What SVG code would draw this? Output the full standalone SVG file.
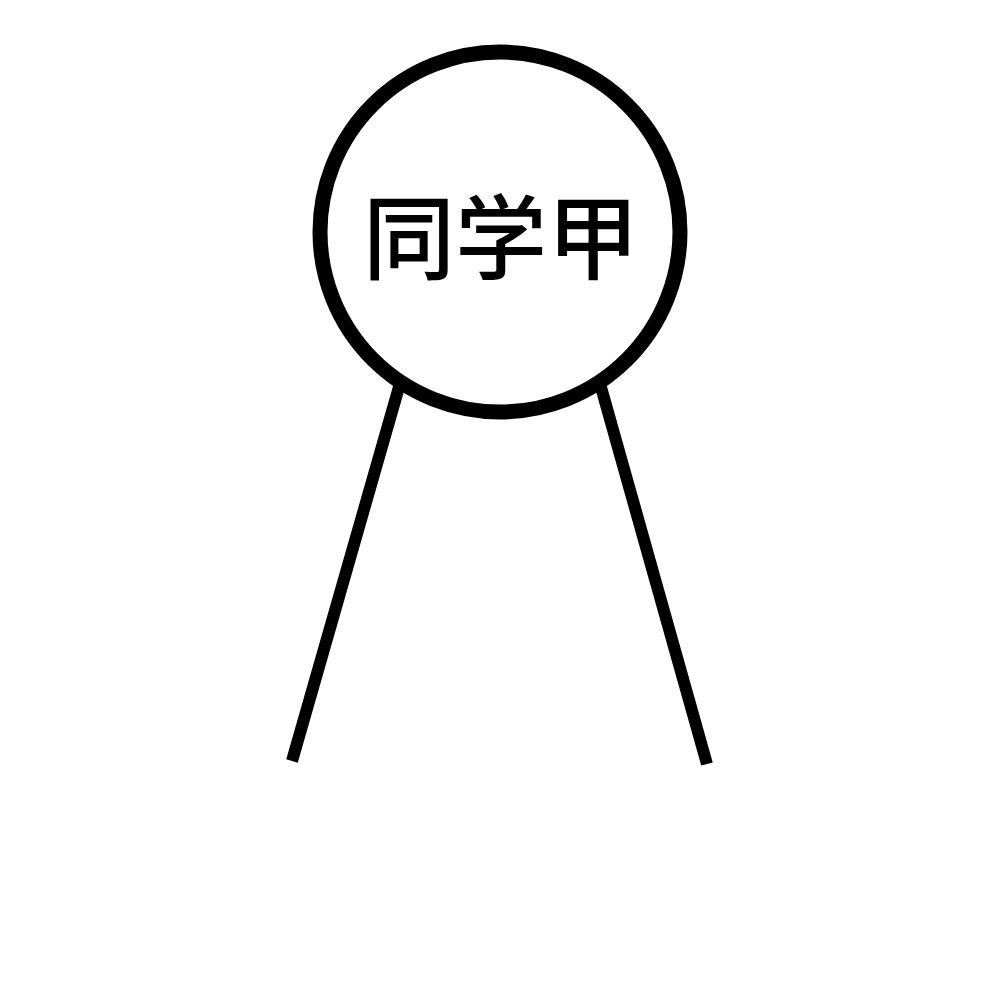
<svg xmlns="http://www.w3.org/2000/svg" width="1000" height="1000" viewBox="0 0 1000 1000">
<style>
.edge{stroke:#000;stroke-width:12;fill:none;stroke-linecap:butt}
.node{fill:#fff;stroke:#000;stroke-width:15}
.label{font-family:"Noto Sans CJK SC","Noto Sans",sans-serif;font-size:92px;font-weight:500;fill:#000;text-anchor:middle}
</style>
<rect width="1000" height="1000" fill="#fff"/>
<g id="connectors">
<line class="edge" x1="401" y1="380" x2="292" y2="761"/>
<line class="edge" x1="599" y1="380" x2="707" y2="764"/>
</g>
<g id="node-jia">
<circle class="node" cx="500" cy="232" r="180"/>
<text class="label" x="501" y="272">同学甲</text>
</g>
</svg>
